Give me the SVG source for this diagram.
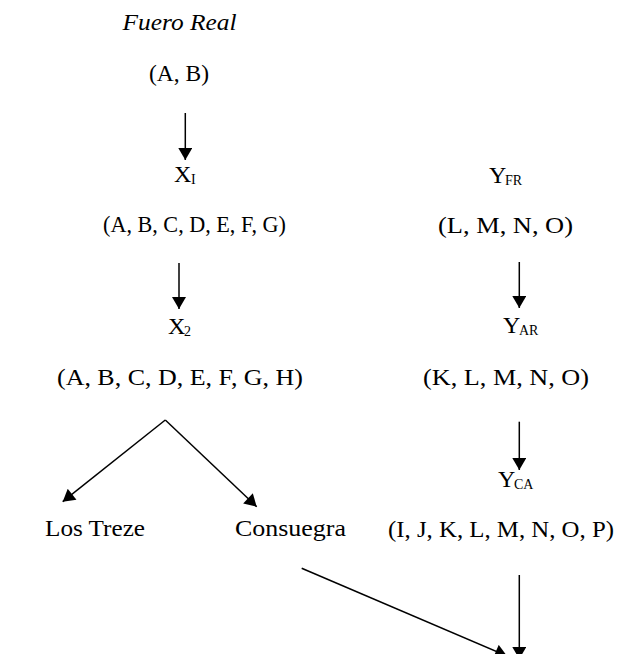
<svg xmlns="http://www.w3.org/2000/svg" width="626" height="654" viewBox="0 0 626 654">
<defs>
<style>
text{font-family:"Liberation Serif","DejaVu Serif",serif;font-size:24px;fill:#000}
.it{font-style:italic}
.sub{font-size:14px}
.c{stroke:#000;stroke-width:1.5;fill:none}
</style>
<marker id="ah" markerUnits="userSpaceOnUse" markerWidth="14" markerHeight="14" viewBox="0 0 12 14" refX="12" refY="7" orient="auto">
<path d="M0,0 L12,7 L0,14 Z" fill="#000"/>
</marker>
</defs>
<rect width="626" height="654" fill="#fff"/>
<g id="fuero-real"><text class="it" x="122.5" y="30" textLength="114" lengthAdjust="spacingAndGlyphs">Fuero Real</text>
<text x="149" y="81" textLength="60" lengthAdjust="spacingAndGlyphs">(A, B)</text></g>
<g id="x1"><text x="174" y="182">X</text><text class="sub" x="191" y="184">I</text>
<text x="103" y="232" textLength="183" lengthAdjust="spacingAndGlyphs">(A, B, C, D, E, F, G)</text></g>
<g id="x2"><text x="168" y="334">X</text><text class="sub" x="184" y="336">2</text>
<text x="57" y="385" textLength="246" lengthAdjust="spacingAndGlyphs">(A, B, C, D, E, F, G, H)</text></g>
<g id="los-treze"><text x="45" y="536" textLength="100" lengthAdjust="spacingAndGlyphs">Los Treze</text></g>
<g id="consuegra"><text x="235" y="536" textLength="111" lengthAdjust="spacingAndGlyphs">Consuegra</text></g>
<g id="yfr"><text x="489" y="183">Y</text><text class="sub" x="505" y="185">FR</text>
<text x="438" y="233" textLength="135" lengthAdjust="spacingAndGlyphs">(L, M, N, O)</text></g>
<g id="yar"><text x="503" y="333">Y</text><text class="sub" x="519" y="335">AR</text>
<text x="423" y="385" textLength="166" lengthAdjust="spacingAndGlyphs">(K, L, M, N, O)</text></g>
<g id="yca"><text x="498" y="487">Y</text><text class="sub" x="514" y="489">CA</text>
<text x="388" y="537" textLength="226" lengthAdjust="spacingAndGlyphs">(I, J, K, L, M, N, O, P)</text></g>
<g id="connectors">
<line class="c" x1="185.3" y1="113" x2="185.3" y2="160" marker-end="url(#ah)"/>
<line class="c" x1="179" y1="263" x2="179" y2="309" marker-end="url(#ah)"/>
<line class="c" x1="165.3" y1="420" x2="62.7" y2="501.7" marker-end="url(#ah)"/>
<line class="c" x1="165.3" y1="420" x2="256.7" y2="506.7" marker-end="url(#ah)"/>
<line class="c" x1="519.3" y1="262" x2="519.3" y2="308" marker-end="url(#ah)"/>
<line class="c" x1="519.3" y1="421.7" x2="519.3" y2="470" marker-end="url(#ah)"/>
<line class="c" x1="519.3" y1="575" x2="519.3" y2="659" marker-end="url(#ah)"/>
<line class="c" x1="301.7" y1="568.3" x2="507" y2="656" marker-end="url(#ah)"/>
</g>
</svg>
